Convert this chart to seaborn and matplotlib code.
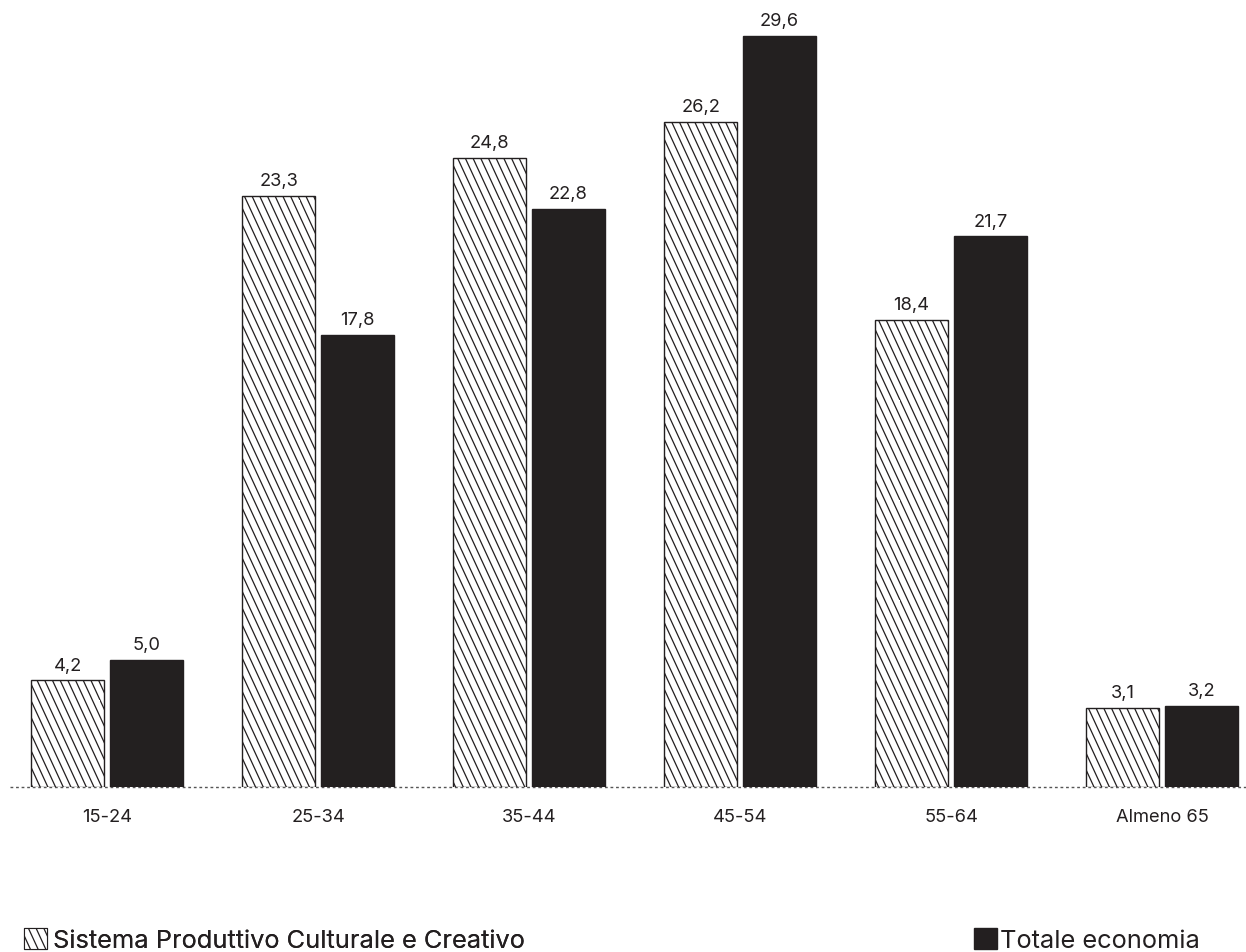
import matplotlib
matplotlib.use("Agg")
import numpy as np
import matplotlib.pyplot as plt
import matplotlib.hatch as mhatch
from matplotlib.path import Path
from matplotlib.patches import Patch
import seaborn as sns
import pandas as pd

# Age classes and shares of employment (%)
age_classes = ["15-24", "25-34", "35-44", "45-54", "55-64", "Almeno 65"]
sistema_culturale = [4.2, 23.3, 24.8, 26.2, 18.4, 3.1]
totale_economia = [5.0, 17.8, 22.8, 29.6, 21.7, 3.2]
series_names = ["Sistema Produttivo Culturale e Creativo", "Totale economia"]

DARK = "#231f20"
HATCH = "\\"


class SteepBackslashHatch(mhatch.HatchPatternBase):
    """Back-slash hatch whose lines are steeper than 45 degrees."""
    LINES = 13   # lines per hatch cell, measured horizontally
    SHIFT = 6    # horizontal run of a line across one cell, in line steps

    def __init__(self, hatch, density):
        self.on = hatch.count("\\") > 0
        self.num_vertices = 2 * (self.LINES + self.SHIFT) if self.on else 0

    def set_vertices_and_codes(self, vertices, codes):
        n, k = self.LINES, self.SHIFT
        starts = np.arange(-k, n) / n
        vertices[0::2, 0] = starts
        vertices[0::2, 1] = 1.0
        vertices[1::2, 0] = starts + k / n
        vertices[1::2, 1] = 0.0
        codes[0::2] = Path.MOVETO
        codes[1::2] = Path.LINETO


mhatch._hatch_types = [
    SteepBackslashHatch if t.__name__ == "SouthEastHatch" else t
    for t in mhatch._hatch_types
]

df = pd.DataFrame({
    "classe": age_classes * 2,
    "valore": sistema_culturale + totale_economia,
    "serie": [series_names[0]] * len(age_classes) + [series_names[1]] * len(age_classes),
})

sns.set_theme(style="white")
plt.rcParams["font.family"] = ["Inter", "DejaVu Sans"]
plt.rcParams["hatch.linewidth"] = 0.9
plt.rcParams["hatch.color"] = DARK
plt.rcParams["text.color"] = DARK

fig = plt.figure(figsize=(12.46, 9.53), dpi=100)
ax = fig.add_axes([10 / 1246, 1 - 788 / 953, 1 - 10 / 1246, (788 - 20) / 953])

sns.barplot(
    data=df, x="classe", y="valore", hue="serie",
    hue_order=series_names,
    palette={series_names[0]: "white", series_names[1]: DARK},
    width=0.748, gap=0.075, edgecolor=DARK, linewidth=1.0,
    legend=False, ax=ax, zorder=3,
)

# hatch the first series
for bar in ax.containers[0]:
    bar.set_hatch(HATCH)
    bar.set_edgecolor(DARK)

# value labels with Italian decimal comma
for cont, vals in zip(ax.containers, [sistema_culturale, totale_economia]):
    ax.bar_label(cont, labels=[f"{v:.1f}".replace(".", ",") for v in vals],
                 padding=5, fontsize=13.2, color=DARK)

ax.set_xlim(-0.46, 5.398)
ax.set_ylim(0, (788 - 20) / 25.37)
ax.axhline(0, color="#555555", lw=1.0, ls=(0, (2.0, 2.0)), zorder=1, clip_on=False)

for s in ax.spines.values():
    s.set_visible(False)
ax.set_yticks([])
ax.set_xlabel("")
ax.set_ylabel("")
ax.tick_params(axis="x", length=0, pad=15, labelsize=13.2, labelcolor=DARK)

# legends at the two ends of the bottom row
h1 = Patch(facecolor="white", edgecolor=DARK, hatch=HATCH, linewidth=0.8)
h2 = Patch(facecolor=DARK, edgecolor=DARK)
leg1 = fig.legend([h1], [series_names[0]], loc="center left",
                  bbox_to_anchor=(14 / 1246, 1 - 941 / 953), frameon=False,
                  fontsize=18.3, handlelength=0.9, handleheight=0.9,
                  handletextpad=0.25, borderaxespad=0)
leg2 = fig.legend([h2], [series_names[1]], loc="center left",
                  bbox_to_anchor=(964 / 1246, 1 - 941 / 953), frameon=False,
                  fontsize=18.3, handlelength=0.9, handleheight=0.9,
                  handletextpad=0.12, borderaxespad=0)
fig.add_artist(leg1)

fig.savefig("out.png", dpi=100)
